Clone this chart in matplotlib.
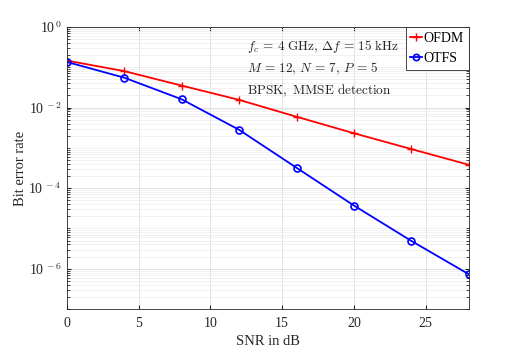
import matplotlib
matplotlib.use("Agg")
import matplotlib.pyplot as plt
from matplotlib.ticker import LogLocator, NullFormatter, FixedLocator

plt.rcParams['font.family'] = ['Liberation Serif', 'DejaVu Serif']
plt.rcParams['mathtext.fontset'] = 'cm'

snr = [0, 4, 8, 12, 16, 20, 24, 28]
ber_ofdm = [0.146, 0.080, 0.035, 0.0155, 0.0059, 0.0023, 9.3e-4, 3.8e-4]
ber_otfs = [0.135, 0.055, 0.016, 0.0028, 3.2e-4, 3.7e-5, 4.9e-6, 7.3e-7]

fig = plt.figure(figsize=(5.18, 3.54), dpi=100)
ax = fig.add_axes([0.129, 0.127, 0.776, 0.797])

ax.semilogy(snr, ber_ofdm, '-+', color='#ff0000', lw=1.3, ms=6, mew=1.0, label='OFDM')
ax.semilogy(snr, ber_otfs, '-o', color='#0000ff', lw=1.3, ms=5, mew=1.2, mfc='none', label='OTFS')

ax.set_xlim(0, 28)
ax.set_ylim(1e-7, 1)
ax.xaxis.set_major_locator(FixedLocator([0, 5, 10, 15, 20, 25]))
ax.yaxis.set_major_locator(FixedLocator([1e-6, 1e-4, 1e-2, 1e0]))
ax.yaxis.set_minor_locator(LogLocator(base=10, subs=range(1, 10), numticks=20))
ax.yaxis.set_minor_formatter(NullFormatter())
ax.set_yticklabels(['10$^{\\,-6}$', '10$^{\\,-4}$', '10$^{\\,-2}$', '10$^{\\,0}$'])

ax.grid(True, which='major', color='#dedede', lw=0.6)
ax.grid(True, which='minor', axis='y', color='#ececec', lw=0.5)
ax.set_axisbelow(True)
ax.tick_params(which='both', direction='in', top=True, right=True, labelsize=10, colors='#262626')
ax.tick_params(which='major', length=3)
ax.tick_params(axis='x', which='major', pad=6)
ax.tick_params(which='minor', length=2)
for s in ax.spines.values():
    s.set_color('#262626')
    s.set_linewidth(0.6)

ax.set_xlabel('SNR in dB', fontsize=10.5, color='#262626', labelpad=3)
ax.set_ylabel('Bit error rate', fontsize=10.5, color='#262626', labelpad=1)

ax.text(0.448, 0.96,
        r'$f_c \,=\, 4\ \mathrm{GHz},\, \Delta f \,=\, 15\ \mathrm{kHz}$' + '\n' +
        r'$M \,=\, 12,\, N \,=\, 7,\, P \,=\, 5$' + '\n' +
        r'$\mathrm{BPSK,\ MMSE\ detection}$',
        transform=ax.transAxes, ha='left', va='top', fontsize=9.5,
        linespacing=1.5, color='#262626')

leg = ax.legend(loc='upper right', fontsize=10, handlelength=0.8, handletextpad=0.15,
                borderpad=0.35, labelspacing=0.5, fancybox=False, framealpha=1,
                borderaxespad=0.0, markerscale=0.9)
leg.get_frame().set_edgecolor('#262626')
leg.get_frame().set_linewidth(0.6)

fig.savefig('out.png', dpi=100)
